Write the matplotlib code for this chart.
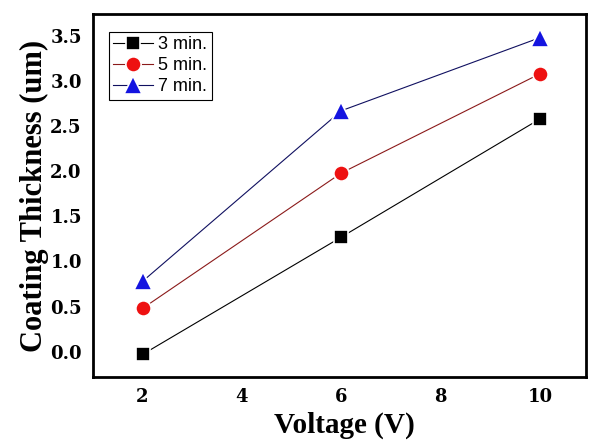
import matplotlib
matplotlib.use("Agg")
import matplotlib.pyplot as plt

voltage = [2, 6, 10]
t3 = [-0.03, 1.27, 2.58]
t5 = [0.48, 1.98, 3.08]
t7 = [0.78, 2.67, 3.48]
labels = ["3 min.", "5 min.", "7 min."]
xticks = [2, 4, 6, 8, 10]
yticks = [0.0, 0.5, 1.0, 1.5, 2.0, 2.5, 3.0, 3.5]

fig = plt.figure(figsize=(6.07, 4.43), dpi=100)
ax = fig.add_axes([0.153, 0.149, 0.812, 0.819])

ax.plot(voltage, t3, '-s', color='black', lw=0.8, ms=10, mec='white', mew=1.2, label=labels[0])
ax.plot(voltage, t5, '-o', color='#8b1a1a', mfc='#ee1111', lw=0.8, ms=11, mec='white', mew=1.2, label=labels[1])
ax.plot(voltage, t7, '-^', color='#101060', mfc='#1414e0', lw=0.8, ms=13, mec='white', mew=1.2, label=labels[2])

ax.set_xlim(1.0, 10.92)
ax.set_ylim(-0.28, 3.74)
ax.set_xticks(xticks)
ax.set_yticks(yticks)
ax.set_yticklabels([f"{v:.1f}" for v in yticks])
ax.tick_params(length=0, pad=8)
for lab in ax.get_xticklabels() + ax.get_yticklabels():
    lab.set_fontfamily('DejaVu Serif')
    lab.set_fontweight('bold')
    lab.set_fontsize(13)
for s in ax.spines.values():
    s.set_linewidth(2)

ax.set_xlabel("Voltage (V)", family='Liberation Serif', weight='bold', fontsize=21)
ax.set_ylabel("Coating Thickness (um)", family='Liberation Serif', weight='bold', fontsize=22)
ax.xaxis.set_label_coords(0.51, -0.095)
ax.yaxis.set_label_coords(-0.09, 0.5)

leg = ax.legend(loc='upper left', bbox_to_anchor=(0.032, 0.952), fancybox=False, framealpha=1,
                edgecolor='black', prop={'family': 'Liberation Sans', 'size': 13},
                handlelength=2.2, handletextpad=0.3, borderpad=0.25, labelspacing=0.22, borderaxespad=0)
leg.get_frame().set_linewidth(0.8)

fig.savefig("out.png", dpi=100)
